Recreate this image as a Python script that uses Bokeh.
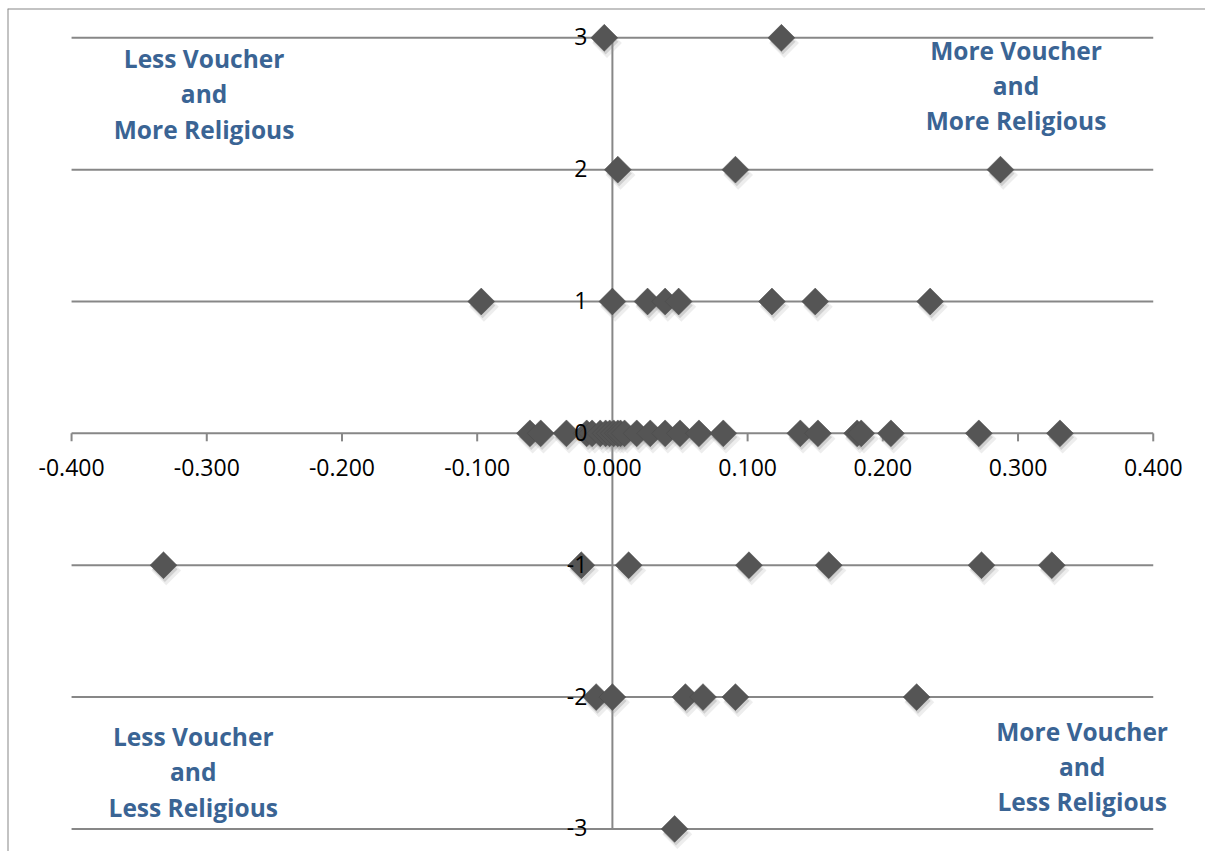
import math
from bokeh.plotting import figure
from bokeh.models import Range1d, Span
from bokeh.core.properties import value
from bokeh.embed import file_html
from bokeh.resources import INLINE

# ---------------- data ----------------
voucher_at_rel_3 = [-0.006, 0.125]
voucher_at_rel_2 = [0.004, 0.091, 0.287]
voucher_at_rel_1 = [-0.097, 0.000, 0.026, 0.039, 0.049, 0.118, 0.150, 0.235]
voucher_at_rel_0 = [-0.061, -0.053, -0.034, -0.019, -0.015, -0.009, -0.005, -0.002,
                    0.001, 0.004, 0.006, 0.009, 0.018, 0.028, 0.039, 0.050, 0.064,
                    0.082, 0.139, 0.152, 0.181, 0.184, 0.206, 0.271, 0.331]
voucher_at_rel_m1 = [-0.332, -0.023, 0.012, 0.101, 0.160, 0.273, 0.325]
voucher_at_rel_m2 = [-0.012, 0.000, 0.054, 0.067, 0.091, 0.225]
voucher_at_rel_m3 = [0.046]
religious_levels = [3, 2, 1, 0, -1, -2, -3]

x_ticks = [-0.4, -0.3, -0.2, -0.1, 0.0, 0.1, 0.2, 0.3, 0.4]
x_tick_labels = ["-0.400", "-0.300", "-0.200", "-0.100", "0.000", "0.100", "0.200", "0.300", "0.400"]
y_ticks = [3, 2, 1, 0, -1, -2, -3]
y_tick_labels = ["3", "2", "1", "0", "-1", "-2", "-3"]

quadrant_texts = [
    ["Less Voucher", "and", "More Religious"],
    ["More Voucher", "and", "More Religious"],
    ["Less Voucher", "and", "Less Religious"],
    ["More Voucher", "and", "Less Religious"],
]

# ---------------- layout / style constants ----------------
W, H = 1205, 851
BORDER_L, BORDER_T = 7, 8
X_START = -0.44738
X_END = 0.43865
Y_END = 3.2222
Y_START = -3.1712
quad_x = [-0.302, 0.2985, -0.310, 0.3474]
quad_y = [[2.844, 2.576, 2.308], [2.903, 2.635, 2.375],
          [-2.300, -2.568, -2.836], [-2.263, -2.524, -2.792]]
GRID = "#878787"
MARK = "#555555"
BLUE = "#3A6494"
TICK_LEN = 8 / 131.9

groups = [voucher_at_rel_3, voucher_at_rel_2, voucher_at_rel_1, voucher_at_rel_0,
          voucher_at_rel_m1, voucher_at_rel_m2, voucher_at_rel_m3]
xs, ys = [], []
for lvl, g in zip(religious_levels, groups):
    xs += g
    ys += [lvl] * len(g)

p = figure(width=W, height=H, x_range=Range1d(X_START, X_END), y_range=Range1d(Y_START, Y_END),
           output_backend="svg", toolbar_location=None,
           x_axis_location=None, y_axis_location=None,
           min_border_left=BORDER_L, min_border_top=BORDER_T,
           min_border_right=0, min_border_bottom=0)
p.xgrid.visible = False
p.ygrid.visible = False
p.outline_line_color = None
p.background_fill_color = "white"
p.border_fill_color = "white"

# chart-area border (left and top edges; right/bottom fall outside the view)
p.add_layout(Span(location=X_START, dimension="height", line_color=GRID, line_width=2))
p.add_layout(Span(location=Y_END, dimension="width", line_color=GRID, line_width=2))

# horizontal grid lines at each religious level
p.segment(x0=[x_ticks[0]] * len(y_ticks), x1=[x_ticks[-1]] * len(y_ticks),
          y0=y_ticks, y1=y_ticks, line_color=GRID, line_width=2)
# vertical axis line
p.segment(x0=[0], x1=[0], y0=[min(y_ticks)], y1=[max(y_ticks)], line_color=GRID, line_width=2)
# x tick marks (downwards from y=0)
p.segment(x0=x_ticks, x1=x_ticks, y0=[0] * len(x_ticks), y1=[-TICK_LEN] * len(x_ticks),
          line_color=GRID, line_width=2)

# marker shadows
p.scatter([x + 0.002 for x in xs], [y - 0.04 for y in ys], marker="square", angle=math.pi / 4,
          size=21, fill_color="#9a9a9a", fill_alpha=0.18, line_color=None)
p.scatter([x + 0.001 for x in xs], [y - 0.03 for y in ys], marker="square", angle=math.pi / 4,
          size=18, fill_color="#8a8a8a", fill_alpha=0.3, line_color=None)
# markers
p.scatter(xs, ys, marker="square", angle=math.pi / 4, size=19,
          fill_color=MARK, line_color="#4a4a4a", line_width=0.5)

# x tick labels
p.text(x=x_ticks, y=[0] * len(x_ticks), text=x_tick_labels, y_offset=34,
       text_align="center", text_baseline="middle", text_font=value("Open Sans"),
       text_font_size="23px", text_color="#000000")
# y tick labels
p.text(x=[0] * len(y_ticks), y=y_ticks, text=y_tick_labels, x_offset=-25, y_offset=-1,
       text_align="right", text_baseline="middle", text_font=value("Open Sans"),
       text_font_size="23px", text_color="#000000")

# quadrant labels
for qx, qys, lines in zip(quad_x, quad_y, quadrant_texts):
    p.text(x=[qx] * len(lines), y=qys, text=lines, text_align="center", text_baseline="middle",
           text_font=value("Open Sans"), text_font_style="bold", text_font_size="24.5px",
           text_color=BLUE)

open("out.html", "w").write(file_html(p, INLINE))
